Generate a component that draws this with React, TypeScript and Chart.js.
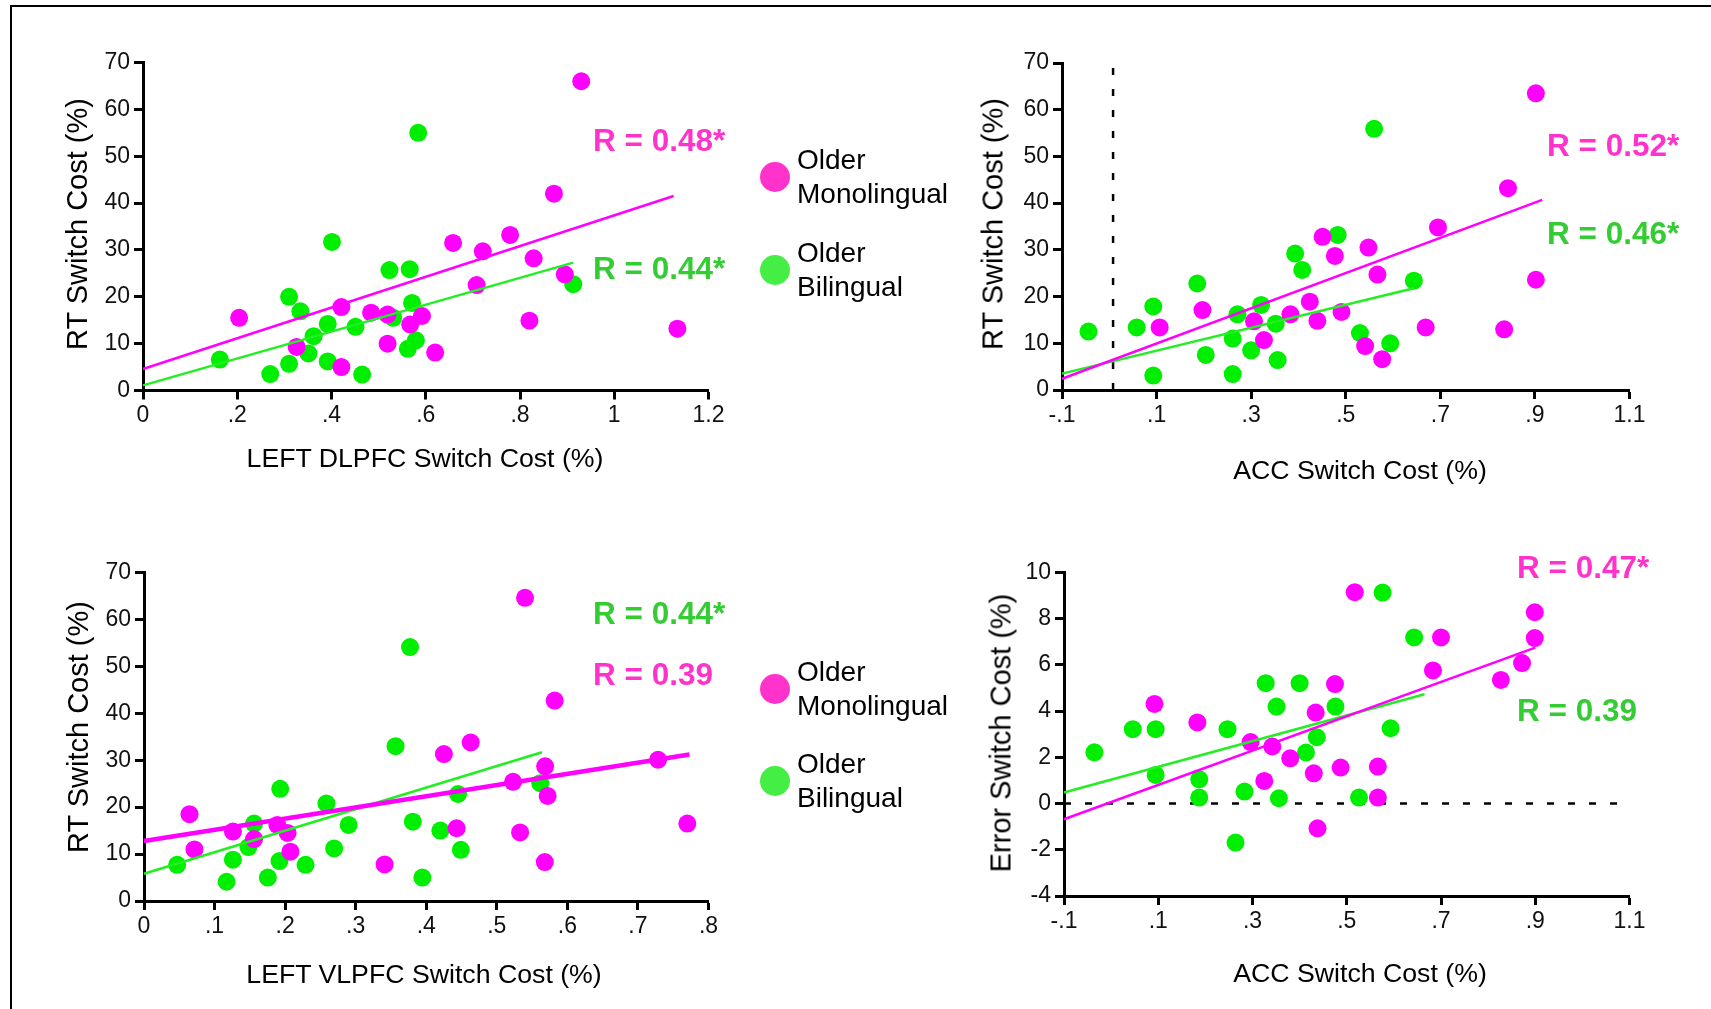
import React, { useEffect, useRef } from 'react';
import { Chart, registerables } from 'chart.js';

Chart.register(...registerables);

const FONT = '"Liberation Sans", Arial, Helvetica, sans-serif';
const PT_MONO = '#ff00ff';
const PT_BILI = '#00ee00';
const LN_MONO = '#ff00ff';
const LN_BILI = '#22ee22';
const LEG_MONO = '#ff33cc';
const LEG_BILI = '#44ee44';
const R_MONO = '#ff33cc';
const R_BILI = '#33cc33';

// ---------- tick values / labels ----------
const rtTicks = [0, 10, 20, 30, 40, 50, 60, 70];
const rtTickLabels = ['0', '10', '20', '30', '40', '50', '60', '70'];
const errTicks = [-4, -2, 0, 2, 4, 6, 8, 10];
const errTickLabels = ['-4', '-2', '0', '2', '4', '6', '8', '10'];
const dlpfcTicks = [0, 0.2, 0.4, 0.6, 0.8, 1.0, 1.2];
const dlpfcTickLabels = ['0', '.2', '.4', '.6', '.8', '1', '1.2'];
const accTicks = [-0.1, 0.1, 0.3, 0.5, 0.7, 0.9, 1.1];
const accTickLabels = ['-.1', '.1', '.3', '.5', '.7', '.9', '1.1'];
const vlpfcTicks = [0, 0.1, 0.2, 0.3, 0.4, 0.5, 0.6, 0.7, 0.8];
const vlpfcTickLabels = ['0', '.1', '.2', '.3', '.4', '.5', '.6', '.7', '.8'];

// ---------- Panel A: LEFT DLPFC vs RT ----------
const dlpfcMonoX = [0.204, 0.326, 0.421, 0.421, 0.484, 0.519, 0.519, 0.567, 0.592, 0.62, 0.658, 0.708, 0.721, 0.779, 0.82, 0.829, 0.872, 0.895, 0.93, 1.134];
const dlpfcMonoY = [15.5, 9.3, 17.8, 5.0, 16.6, 16.2, 10.0, 14.1, 15.9, 8.1, 31.5, 22.5, 29.7, 33.2, 14.9, 28.2, 42.0, 24.8, 66.0, 13.2];
const dlpfcBiliX = [0.163, 0.27, 0.31, 0.31, 0.334, 0.351, 0.362, 0.392, 0.392, 0.401, 0.451, 0.465, 0.523, 0.531, 0.562, 0.566, 0.571, 0.579, 0.584, 0.913];
const dlpfcBiliY = [6.6, 3.5, 5.7, 20.0, 16.9, 7.9, 11.6, 6.2, 14.2, 31.7, 13.6, 3.4, 25.7, 15.5, 8.9, 25.9, 18.7, 10.7, 55.0, 22.7];
const dlpfcMonoFitX = [0, 1.126];
const dlpfcMonoFitY = [4.6, 41.5];
const dlpfcBiliFitX = [0, 0.913];
const dlpfcBiliFitY = [1.1, 27.3];

// ---------- Panel B: ACC vs RT ----------
const accRtMonoX = [0.1065, 0.197, 0.306, 0.327, 0.383, 0.424, 0.44, 0.451, 0.477, 0.491, 0.548, 0.541, 0.567, 0.577, 0.669, 0.695, 0.835, 0.843, 0.902, 0.902];
const accRtMonoY = [13.4, 17.1, 14.7, 10.7, 16.2, 18.9, 14.8, 32.8, 28.7, 16.7, 30.5, 9.4, 24.7, 6.6, 13.4, 34.8, 13.0, 43.2, 23.6, 63.5];
const accRtBiliX = [-0.044, 0.058, 0.093, 0.093, 0.186, 0.204, 0.261, 0.261, 0.271, 0.3, 0.321, 0.352, 0.356, 0.393, 0.408, 0.483, 0.53, 0.56, 0.594, 0.644];
const accRtBiliY = [12.5, 13.4, 17.9, 3.1, 22.8, 7.5, 11.0, 3.4, 16.2, 8.5, 18.2, 14.2, 6.4, 29.2, 25.7, 33.2, 12.2, 55.9, 10.0, 23.4];
const accRtMonoFitX = [-0.1, 0.9155];
const accRtMonoFitY = [2.4, 40.7];
const accRtBiliFitX = [-0.1, 0.644];
const accRtBiliFitY = [3.5, 21.8];
const accRtRefX = [0.008, 0.008];
const accRtRefY = [0, 70];

// ---------- Panel C: LEFT VLPFC vs RT ----------
const vlpfcMonoX = [0.0645, 0.0715, 0.126, 0.156, 0.189, 0.2035, 0.2075, 0.341, 0.425, 0.443, 0.463, 0.523, 0.533, 0.54, 0.568, 0.5685, 0.572, 0.582, 0.7285, 0.77];
const vlpfcMonoY = [18.5, 11.0, 14.8, 13.2, 16.2, 14.5, 10.5, 7.8, 31.3, 15.5, 33.8, 25.4, 14.6, 64.6, 8.3, 28.7, 22.4, 42.7, 30.1, 16.5];
const vlpfcBiliX = [0.047, 0.117, 0.126, 0.148, 0.156, 0.1755, 0.192, 0.193, 0.229, 0.2585, 0.2695, 0.29, 0.3565, 0.377, 0.381, 0.3945, 0.42, 0.445, 0.449, 0.5615];
const vlpfcBiliY = [7.7, 4.1, 8.8, 11.5, 16.5, 5.0, 8.5, 23.9, 7.7, 20.8, 11.2, 16.2, 33.0, 54.1, 16.9, 5.0, 15.0, 22.8, 10.9, 25.1];
const vlpfcMonoFitX = [0, 0.773];
const vlpfcMonoFitY = [12.8, 31.2];
const vlpfcBiliFitX = [0, 0.564];
const vlpfcBiliFitY = [5.8, 31.7];

// ---------- Panel D: ACC vs Error ----------
const accErrMonoX = [0.092, 0.183, 0.296, 0.325, 0.342, 0.38, 0.43, 0.434, 0.438, 0.475, 0.487, 0.517, 0.566, 0.566, 0.683, 0.7, 0.827, 0.872, 0.899, 0.899];
const accErrMonoY = [4.31, 3.51, 2.66, 0.98, 2.47, 1.96, 1.31, 3.94, -1.07, 5.17, 1.56, 9.15, 1.6, 0.26, 5.76, 7.19, 5.35, 6.08, 7.16, 8.28];
const accErrBiliX = [-0.0355, 0.046, 0.0945, 0.0945, 0.187, 0.187, 0.247, 0.264, 0.283, 0.328, 0.351, 0.356, 0.4, 0.4135, 0.4365, 0.476, 0.526, 0.576, 0.593, 0.643];
const accErrBiliY = [2.22, 3.22, 3.22, 1.24, 1.05, 0.26, 3.22, -1.69, 0.52, 5.21, 4.2, 0.23, 5.21, 2.21, 2.87, 4.2, 0.26, 9.13, 3.26, 7.19];
const accErrMonoFitX = [-0.1, 0.9];
const accErrMonoFitY = [-0.68, 6.75];
const accErrBiliFitX = [-0.1, 0.665];
const accErrBiliFitY = [0.48, 4.73];
const accErrRefX = [-0.1, 1.08];
const accErrRefY = [0, 0];

const pts = (xs: number[], ys: number[]) => xs.map((x, i) => ({ x, y: ys[i] }));

const YW = 60;
const XH = 50;

type PanelProps = {
  left: number; top: number; width: number; height: number;
  area: { l: number; r: number; t: number; b: number };
  xMin: number; xMax: number; xTicks: number[]; xLabels: string[];
  yMin: number; yMax: number; yTicks: number[]; yLabels: string[];
  monoX: number[]; monoY: number[]; biliX: number[]; biliY: number[];
  monoFitX: number[]; monoFitY: number[]; biliFitX: number[]; biliFitY: number[];
  monoFitWidth?: number;
  refX?: number[]; refY?: number[];
};

function axis(min: number, max: number, ticks: number[], labels: string[], horizontal: boolean) {
  return {
    type: 'linear' as const,
    min, max,
    afterBuildTicks: (s: any) => { s.ticks = ticks.map((v) => ({ value: v })); },
    afterFit: (s: any) => { if (horizontal) s.height = XH; else s.width = YW; },
    border: { display: true, color: '#000', width: 3 },
    grid: { display: true, drawOnChartArea: false, drawTicks: true, tickLength: 9, tickWidth: 3, tickColor: '#000', color: '#000' },
    ticks: {
      autoSkip: false, maxRotation: 0, minRotation: 0,
      padding: horizontal ? 5 : 4,
      color: '#111',
      font: { family: FONT, size: 23, lineHeight: 1 },
      callback: (_v: any, i: number) => labels[i],
    },
  };
}

function Panel(p: PanelProps) {
  const ref = useRef<HTMLCanvasElement>(null);
  useEffect(() => {
    const datasets: any[] = [
      { data: pts(p.monoFitX, p.monoFitY), showLine: true, borderColor: LN_MONO, borderWidth: p.monoFitWidth ?? 2.5, pointRadius: 0, order: 0, clip: false },
      { data: pts(p.biliFitX, p.biliFitY), showLine: true, borderColor: LN_BILI, borderWidth: 2.5, pointRadius: 0, order: 0, clip: false },
      { data: pts(p.monoX, p.monoY), backgroundColor: PT_MONO, pointBackgroundColor: PT_MONO, pointBorderWidth: 0, pointRadius: 9, order: 1, clip: false },
      { data: pts(p.biliX, p.biliY), backgroundColor: PT_BILI, pointBackgroundColor: PT_BILI, pointBorderWidth: 0, pointRadius: 9, order: 1, clip: false },
    ];
    if (p.refX && p.refY) {
      datasets.push({ data: pts(p.refX, p.refY), showLine: true, borderColor: '#000', borderWidth: 2.5, borderDash: [7, 14], pointRadius: 0, order: 2, clip: false });
    }
    const chart = new Chart(ref.current as HTMLCanvasElement, {
      type: 'scatter',
      data: { datasets },
      options: {
        animation: false,
        responsive: false,
        devicePixelRatio: 1,
        events: [],
        layout: {
          padding: {
            left: p.area.l - p.left - YW,
            right: p.left + p.width - p.area.r,
            top: p.area.t - p.top,
            bottom: p.top + p.height - p.area.b - XH,
          },
        },
        plugins: { legend: { display: false }, tooltip: { enabled: false } },
        scales: {
          x: axis(p.xMin, p.xMax, p.xTicks, p.xLabels, true),
          y: axis(p.yMin, p.yMax, p.yTicks, p.yLabels, false),
        },
      } as any,
    });
    return () => chart.destroy();
  }, []);
  return (
    <canvas
      ref={ref}
      width={p.width}
      height={p.height}
      style={{ position: 'absolute', left: p.left, top: p.top, width: p.width, height: p.height }}
    />
  );
}

type TxtProps = { x: number; y: number; size: number; text: string; color?: string; bold?: boolean; center?: boolean; rotate?: boolean };
function Txt({ x, y, size, text, color = '#000', bold = false, center = false, rotate = false }: TxtProps) {
  const tf = center ? `translate(-50%, -50%)${rotate ? ' rotate(-90deg)' : ''}` : 'translateY(-50%)';
  return (
    <div style={{
      position: 'absolute', left: x, top: y, transform: tf,
      font: `${bold ? 'bold ' : ''}${size}px ${FONT}`, lineHeight: 1, color, whiteSpace: 'nowrap',
    }}>{text}</div>
  );
}

function Dot({ x, y, color }: { x: number; y: number; color: string }) {
  return <div style={{ position: 'absolute', left: x - 15, top: y - 15, width: 30, height: 30, borderRadius: '50%', background: color }} />;
}

function Legend({ yMono, yBili }: { yMono: number; yBili: number }) {
  return (
    <>
      <Dot x={775} y={yMono} color={LEG_MONO} />
      <Txt x={797} y={yMono - 17} size={28} text="Older" />
      <Txt x={797} y={yMono + 17} size={28} text="Monolingual" />
      <Dot x={775} y={yBili} color={LEG_BILI} />
      <Txt x={797} y={yBili - 17} size={28} text="Older" />
      <Txt x={797} y={yBili + 17} size={28} text="Bilingual" />
    </>
  );
}

export default function App() {
  return (
    <div style={{ position: 'absolute', left: 0, top: 0, width: 1711, height: 1009, background: '#fff', overflow: 'hidden' }}>
      <div style={{ position: 'absolute', left: 10, top: 5, width: 1800, height: 1100, borderTop: '2px solid #000', borderLeft: '2px solid #000' }} />

      <Panel left={0} top={0} width={855} height={500} area={{ l: 143, r: 708.5, t: 62.5, b: 390.5 }}
        xMin={0} xMax={1.2} xTicks={dlpfcTicks} xLabels={dlpfcTickLabels}
        yMin={0} yMax={70} yTicks={rtTicks} yLabels={rtTickLabels}
        monoX={dlpfcMonoX} monoY={dlpfcMonoY} biliX={dlpfcBiliX} biliY={dlpfcBiliY}
        monoFitX={dlpfcMonoFitX} monoFitY={dlpfcMonoFitY} biliFitX={dlpfcBiliFitX} biliFitY={dlpfcBiliFitY} />

      <Panel left={855} top={0} width={856} height={500} area={{ l: 1062, r: 1629.5, t: 63, b: 390 }}
        xMin={-0.1} xMax={1.1} xTicks={accTicks} xLabels={accTickLabels}
        yMin={0} yMax={70} yTicks={rtTicks} yLabels={rtTickLabels}
        monoX={accRtMonoX} monoY={accRtMonoY} biliX={accRtBiliX} biliY={accRtBiliY}
        monoFitX={accRtMonoFitX} monoFitY={accRtMonoFitY} biliFitX={accRtBiliFitX} biliFitY={accRtBiliFitY}
        refX={accRtRefX} refY={accRtRefY} />

      <Panel left={0} top={500} width={855} height={509} area={{ l: 144, r: 708.5, t: 572.5, b: 901 }}
        xMin={0} xMax={0.8} xTicks={vlpfcTicks} xLabels={vlpfcTickLabels}
        yMin={0} yMax={70} yTicks={rtTicks} yLabels={rtTickLabels}
        monoX={vlpfcMonoX} monoY={vlpfcMonoY} biliX={vlpfcBiliX} biliY={vlpfcBiliY}
        monoFitX={vlpfcMonoFitX} monoFitY={vlpfcMonoFitY} biliFitX={vlpfcBiliFitX} biliFitY={vlpfcBiliFitY}
        monoFitWidth={4.5} />

      <Panel left={855} top={500} width={856} height={509} area={{ l: 1064, r: 1629.5, t: 572.5, b: 896 }}
        xMin={-0.1} xMax={1.1} xTicks={accTicks} xLabels={accTickLabels}
        yMin={-4} yMax={10} yTicks={errTicks} yLabels={errTickLabels}
        monoX={accErrMonoX} monoY={accErrMonoY} biliX={accErrBiliX} biliY={accErrBiliY}
        monoFitX={accErrMonoFitX} monoFitY={accErrMonoFitY} biliFitX={accErrBiliFitX} biliFitY={accErrBiliFitY}
        refX={accErrRefX} refY={accErrRefY} />

      {/* axis titles */}
      <Txt x={77} y={224} size={29} text="RT Switch Cost (%)" center rotate />
      <Txt x={425} y={458} size={26.7} text="LEFT DLPFC Switch Cost (%)" center />
      <Txt x={992.5} y={224} size={29} text="RT Switch Cost (%)" center rotate />
      <Txt x={1360} y={470} size={26.7} text="ACC Switch Cost (%)" center />
      <Txt x={78} y={727} size={29} text="RT Switch Cost (%)" center rotate />
      <Txt x={424} y={974} size={26.7} text="LEFT VLPFC Switch Cost (%)" center />
      <Txt x={1001} y={733} size={29} text="Error Switch Cost (%)" center rotate />
      <Txt x={1360} y={973} size={26.7} text="ACC Switch Cost (%)" center />

      {/* correlation labels */}
      <Txt x={593} y={141} size={31.5} bold color={R_MONO} text="R = 0.48*" />
      <Txt x={593} y={269} size={31.5} bold color={R_BILI} text="R = 0.44*" />
      <Txt x={1547} y={146} size={31.5} bold color={R_MONO} text="R = 0.52*" />
      <Txt x={1547} y={234} size={31.5} bold color={R_BILI} text="R = 0.46*" />
      <Txt x={593} y={614} size={31.5} bold color={R_BILI} text="R = 0.44*" />
      <Txt x={593} y={675} size={31.5} bold color={R_MONO} text="R = 0.39" />
      <Txt x={1517} y={568} size={31.5} bold color={R_MONO} text="R = 0.47*" />
      <Txt x={1517} y={711} size={31.5} bold color={R_BILI} text="R = 0.39" />

      {/* legends */}
      <Legend yMono={177} yBili={270} />
      <Legend yMono={689} yBili={781} />
    </div>
  );
}
